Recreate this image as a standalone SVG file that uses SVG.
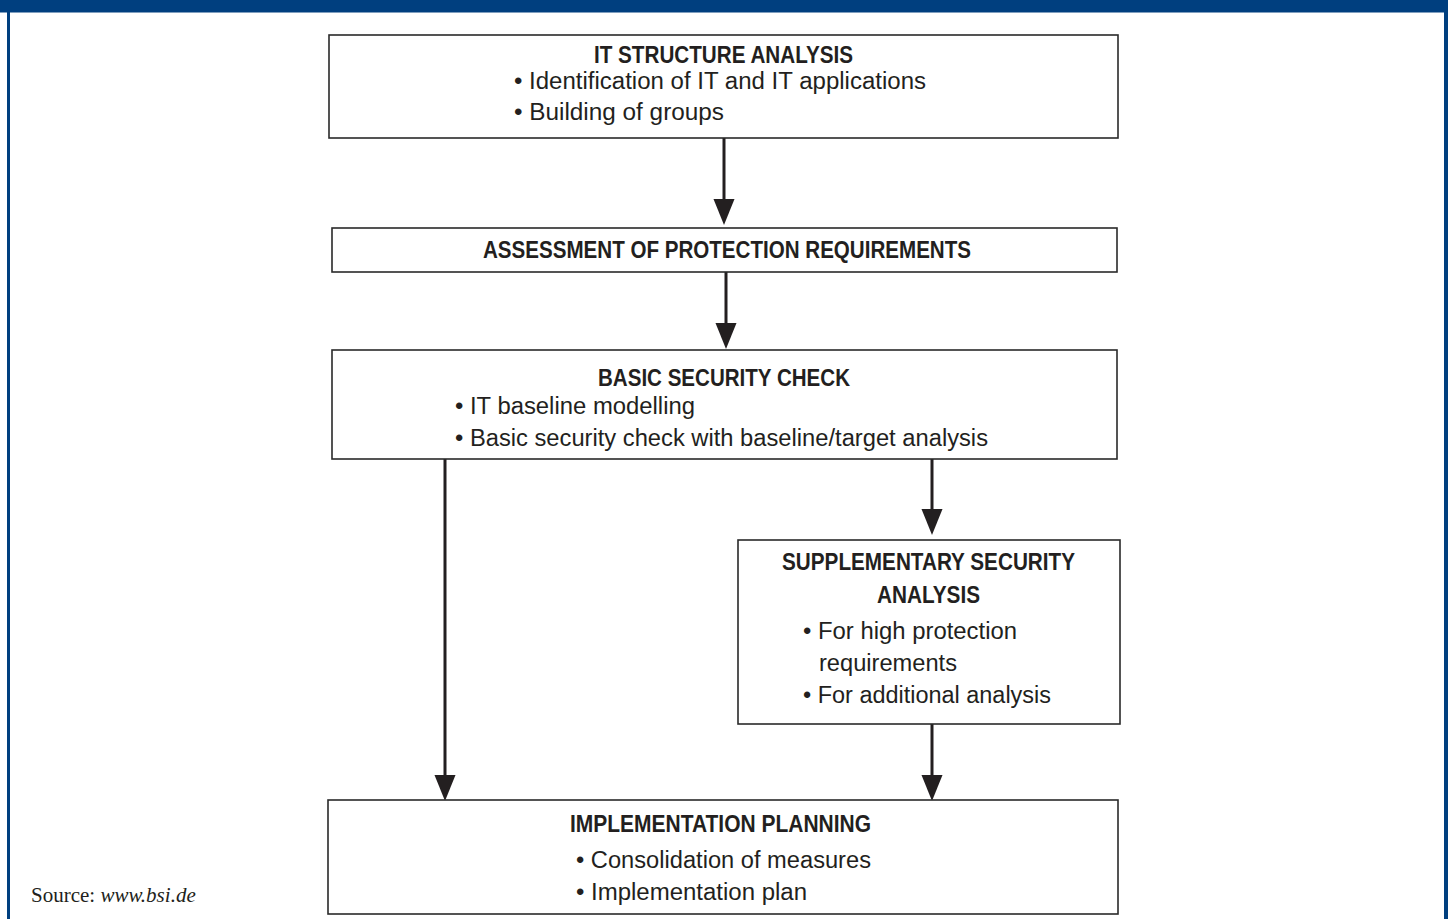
<svg xmlns="http://www.w3.org/2000/svg" width="1448" height="919" viewBox="0 0 1448 919">
<defs>
<style>
.frame{fill:#003f7f}
.box{fill:#fff;stroke:#2a2a2a;stroke-width:1.6}
.t{font-family:"Liberation Sans",Arial,sans-serif;font-size:23px;fill:#231f20}
.b{font-weight:bold}
.src{font-family:"Liberation Serif","Times New Roman",serif;font-size:21px;fill:#231f20}
.conn{stroke:#231f20;stroke-width:3;fill:none}
</style>
</defs>
<rect width="1448" height="919" fill="#fff"/>
<g id="frame">
<rect class="frame" x="0" y="0" width="1448" height="12.5"/>
<rect class="frame" x="7" y="0" width="3" height="919"/>
<rect class="frame" x="1444" y="0" width="4" height="919"/>
</g>
<g id="connectors">
<line class="conn" x1="724" y1="138" x2="724" y2="200"/>
<path d="M713.5,199 L734.5,199 L724,225 z" fill="#231f20"/>
<line class="conn" x1="726" y1="272" x2="726" y2="324"/>
<path d="M715.5,323 L736.5,323 L726,349 z" fill="#231f20"/>
<line class="conn" x1="445" y1="459" x2="445" y2="776"/>
<path d="M434.5,775 L455.5,775 L445,801 z" fill="#231f20"/>
<line class="conn" x1="932" y1="459" x2="932" y2="510"/>
<path d="M921.5,509 L942.5,509 L932,535 z" fill="#231f20"/>
<line class="conn" x1="932" y1="724" x2="932" y2="776"/>
<path d="M921.5,775 L942.5,775 L932,801 z" fill="#231f20"/>
</g>
<g id="it-structure-analysis">
<rect class="box" x="329" y="35" width="789" height="103"/>
<text class="t b" x="594" y="63" textLength="259" lengthAdjust="spacingAndGlyphs">IT STRUCTURE ANALYSIS</text>
<text class="t" x="514" y="89" textLength="412" lengthAdjust="spacingAndGlyphs">• Identification of IT and IT applications</text>
<text class="t" x="514" y="120" textLength="210" lengthAdjust="spacingAndGlyphs">• Building of groups</text>
</g>
<g id="assessment">
<rect class="box" x="332" y="228" width="785" height="44"/>
<text class="t b" x="483" y="258" textLength="488" lengthAdjust="spacingAndGlyphs">ASSESSMENT OF PROTECTION REQUIREMENTS</text>
</g>
<g id="basic-security-check">
<rect class="box" x="332" y="350" width="785" height="109"/>
<text class="t b" x="598" y="386" textLength="252" lengthAdjust="spacingAndGlyphs">BASIC SECURITY CHECK</text>
<text class="t" x="455" y="414" textLength="240" lengthAdjust="spacingAndGlyphs">• IT baseline modelling</text>
<text class="t" x="455" y="446" textLength="533" lengthAdjust="spacingAndGlyphs">• Basic security check with baseline/target analysis</text>
</g>
<g id="supplementary-security-analysis">
<rect class="box" x="738" y="540" width="382" height="184"/>
<text class="t b" x="782" y="570" textLength="293" lengthAdjust="spacingAndGlyphs">SUPPLEMENTARY SECURITY</text>
<text class="t b" x="877" y="603" textLength="103" lengthAdjust="spacingAndGlyphs">ANALYSIS</text>
<text class="t" x="803" y="639" textLength="214" lengthAdjust="spacingAndGlyphs">• For high protection</text>
<text class="t" x="819" y="671" textLength="138" lengthAdjust="spacingAndGlyphs">requirements</text>
<text class="t" x="803" y="703" textLength="248" lengthAdjust="spacingAndGlyphs">• For additional analysis</text>
</g>
<g id="implementation-planning">
<rect class="box" x="328" y="800" width="790" height="114"/>
<text class="t b" x="570" y="832" textLength="301" lengthAdjust="spacingAndGlyphs">IMPLEMENTATION PLANNING</text>
<text class="t" x="576" y="868" textLength="295" lengthAdjust="spacingAndGlyphs">• Consolidation of measures</text>
<text class="t" x="576" y="900" textLength="231" lengthAdjust="spacingAndGlyphs">• Implementation plan</text>
</g>
<g id="source">
<text class="src" x="31" y="902">Source: <tspan font-style="italic">www.bsi.de</tspan></text>
</g>
</svg>
